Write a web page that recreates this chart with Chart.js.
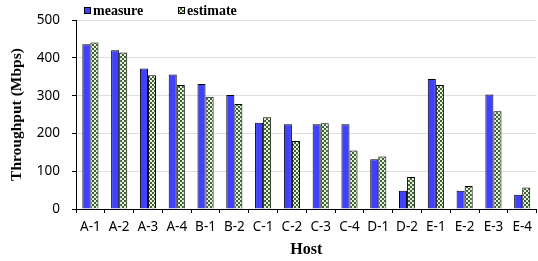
<!DOCTYPE html>
<html>
<head>
<meta charset="utf-8">
<script src="https://cdn.jsdelivr.net/npm/chart.js@4/dist/chart.umd.min.js"></script>
<style>
  html, body { margin: 0; padding: 0; background: #fff; }
  #wrap { width: 538px; height: 261px; }
</style>
</head>
<body>
<div id="wrap"><canvas id="chart" width="538" height="261"></canvas></div>
<script>
// data
const hosts = ["A-1", "A-2", "A-3", "A-4", "B-1", "B-2", "C-1", "C-2",
               "C-3", "C-4", "D-1", "D-2", "E-1", "E-2", "E-3", "E-4"];
const measure  = [436, 420, 372, 356, 331, 302, 228, 224, 224, 224, 132, 48, 344, 48, 303, 38];
const estimate = [441, 414, 354, 328, 297, 278, 243, 180, 227, 155, 139, 85, 328, 61, 259, 57];
const yTicks = [0, 100, 200, 300, 400, 500];

const BLUE = "#4040ff";

// small checkered fill for the "estimate" bars
function makeChecker() {
  const c = document.createElement("canvas");
  c.width = 4; c.height = 4;
  const g = c.getContext("2d");
  g.fillStyle = "#e4f0da";
  g.fillRect(0, 0, 4, 4);
  g.fillStyle = "#3f6232";
  g.fillRect(0, 0, 2, 2);
  g.fillRect(2, 2, 2, 2);
  return g.createPattern(c, "repeat");
}
const checker = makeChecker();

// legend drawn above the plot, left-aligned like the original
const topLegend = {
  id: "topLegend",
  afterDraw(chart) {
    const ctx = chart.ctx;
    const x0 = chart.chartArea.left;
    const items = [
      { text: "measure",  fill: BLUE,    dx: 8 },
      { text: "estimate", fill: checker, dx: 102 }
    ];
    ctx.save();
    ctx.font = "bold 14px 'Liberation Serif'";
    ctx.textBaseline = "middle";
    items.forEach(it => {
      ctx.fillStyle = it.fill;
      ctx.fillRect(x0 + it.dx, 7, 7, 7);
      ctx.strokeStyle = "#000";
      ctx.lineWidth = 1;
      ctx.strokeRect(x0 + it.dx + 0.5, 7.5, 6, 6);
      ctx.fillStyle = "#000";
      ctx.fillText(it.text, x0 + it.dx + 9, 11);
    });
    ctx.restore();
  }
};

const tickFont = { family: "'Noto Sans'", size: 13.5 };

new Chart(document.getElementById("chart"), {
  type: "bar",
  data: {
    labels: hosts,
    datasets: [
      {
        label: "measure",
        data: measure,
        backgroundColor: BLUE,
        borderColor: "#000",
        borderWidth: 1,
        borderSkipped: "bottom",
        barPercentage: 1,
        categoryPercentage: 0.56
      },
      {
        label: "estimate",
        data: estimate,
        backgroundColor: checker,
        borderColor: "#000",
        borderWidth: 1,
        borderSkipped: "bottom",
        barPercentage: 1,
        categoryPercentage: 0.56
      }
    ]
  },
  options: {
    responsive: false,
    animation: false,
    layout: { padding: { top: 20, right: 0, left: 0, bottom: 0 } },
    plugins: {
      legend: { display: false },
      tooltip: { enabled: false }
    },
    scales: {
      x: {
        offset: true,
        grid: { display: true, drawOnChartArea: false, tickLength: 4, tickColor: "#000" },
        border: { color: "#000", width: 1 },
        ticks: { color: "#000", font: tickFont, padding: 6, maxRotation: 0, autoSkip: false },
        title: {
          display: true, text: "Host", color: "#000",
          font: { family: "'Liberation Serif'", size: 16, weight: "bold" },
          padding: { top: 0, bottom: 2 }
        },
        afterFit: s => { s.height = 52; }
      },
      y: {
        min: 0, max: 500,
        afterBuildTicks: s => { s.ticks = yTicks.map(v => ({ value: v })); },
        grid: { color: "#dedede", lineWidth: 1, tickLength: 4, tickColor: "#000" },
        border: { color: "#000", width: 1 },
        ticks: { color: "#000", font: tickFont, padding: 12 },
        title: {
          display: true, text: "Throughput (Mbps)", color: "#000",
          font: { family: "'Liberation Serif'", size: 15.5, weight: "bold" },
          padding: { top: 8, bottom: 0 }
        },
        afterFit: s => { s.width = 76; }
      }
    }
  },
  plugins: [topLegend]
});
</script>
</body>
</html>
